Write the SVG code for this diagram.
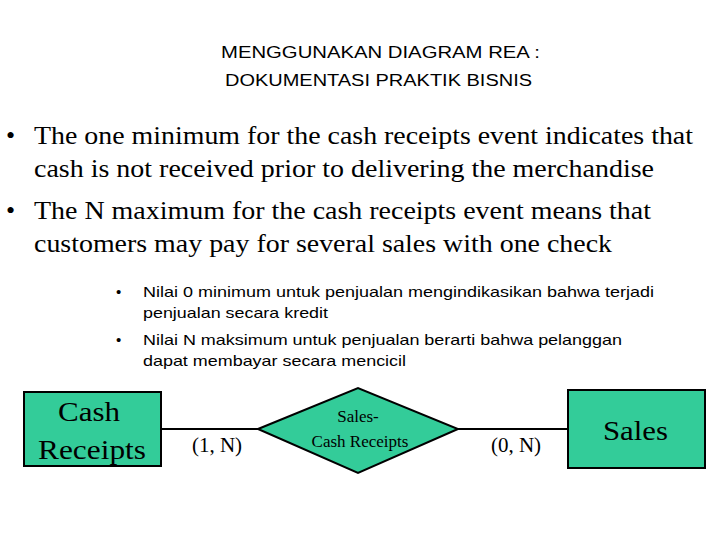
<svg xmlns="http://www.w3.org/2000/svg" width="720" height="540" viewBox="0 0 720 540">
<style>
.h{font-family:"Liberation Sans",Arial,sans-serif;font-size:16px}
.b{font-family:"Liberation Serif","Times New Roman",serif;font-size:26px}
.s{font-family:"Liberation Sans",Arial,sans-serif;font-size:15px}
.n{fill:#33cc99;stroke:#000;stroke-width:2}
.t{font-family:"Liberation Serif","Times New Roman",serif;fill:#000}
</style>
<rect width="720" height="540" fill="#fff"/>
<text class="h" x="221" y="58" textLength="319" lengthAdjust="spacingAndGlyphs">MENGGUNAKAN DIAGRAM REA :</text>
<text class="h" x="225" y="86" textLength="307" lengthAdjust="spacingAndGlyphs">DOKUMENTASI PRAKTIK BISNIS</text>
<g class="b">
<text x="6" y="144">•</text><text x="34" y="144" textLength="659" lengthAdjust="spacingAndGlyphs">The one minimum for the cash receipts event indicates that</text>
<text x="34" y="177" textLength="620" lengthAdjust="spacingAndGlyphs">cash is not received prior to delivering the merchandise</text>
<text x="6" y="219">•</text><text x="34" y="219" textLength="617" lengthAdjust="spacingAndGlyphs">The N maximum for the cash receipts event means that</text>
<text x="34" y="252" textLength="578" lengthAdjust="spacingAndGlyphs">customers may pay for several sales with one check</text>
</g>
<g class="s">
<text x="116" y="297">•</text><text x="143" y="297" textLength="511" lengthAdjust="spacingAndGlyphs">Nilai 0 minimum untuk penjualan mengindikasikan bahwa terjadi</text>
<text x="143" y="318" textLength="185" lengthAdjust="spacingAndGlyphs">penjualan secara kredit</text>
<text x="116" y="345">•</text><text x="143" y="345" textLength="479" lengthAdjust="spacingAndGlyphs">Nilai N maksimum untuk penjualan berarti bahwa pelanggan</text>
<text x="143" y="366" textLength="263" lengthAdjust="spacingAndGlyphs">dapat membayar secara mencicil</text>
</g>
<g id="connectors" stroke="#000" stroke-width="2">
<line x1="161" y1="429" x2="258" y2="429"/>
<line x1="458" y1="429" x2="568" y2="429"/>
</g>
<g id="cash"><rect class="n" x="24" y="392" width="137" height="74"/>
<text class="t" x="58" y="421" font-size="27" textLength="62" lengthAdjust="spacingAndGlyphs">Cash</text>
<text class="t" x="38" y="459" font-size="27" textLength="108" lengthAdjust="spacingAndGlyphs">Receipts</text></g>
<g id="rel"><polygon class="n" points="258,429 358,388 458,429 358,473"/>
<text class="t" x="358" y="422" font-size="17" text-anchor="middle">Sales-</text>
<text class="t" x="360" y="447" font-size="17" text-anchor="middle">Cash Receipts</text></g>
<g id="sales"><rect class="n" x="568" y="390" width="137" height="78"/>
<text class="t" x="603" y="440" font-size="27" textLength="65" lengthAdjust="spacingAndGlyphs">Sales</text></g>
<text class="t" x="217" y="452" font-size="21" text-anchor="middle">(1, N)</text>
<text class="t" x="516" y="452" font-size="21" text-anchor="middle">(0, N)</text>
</svg>
